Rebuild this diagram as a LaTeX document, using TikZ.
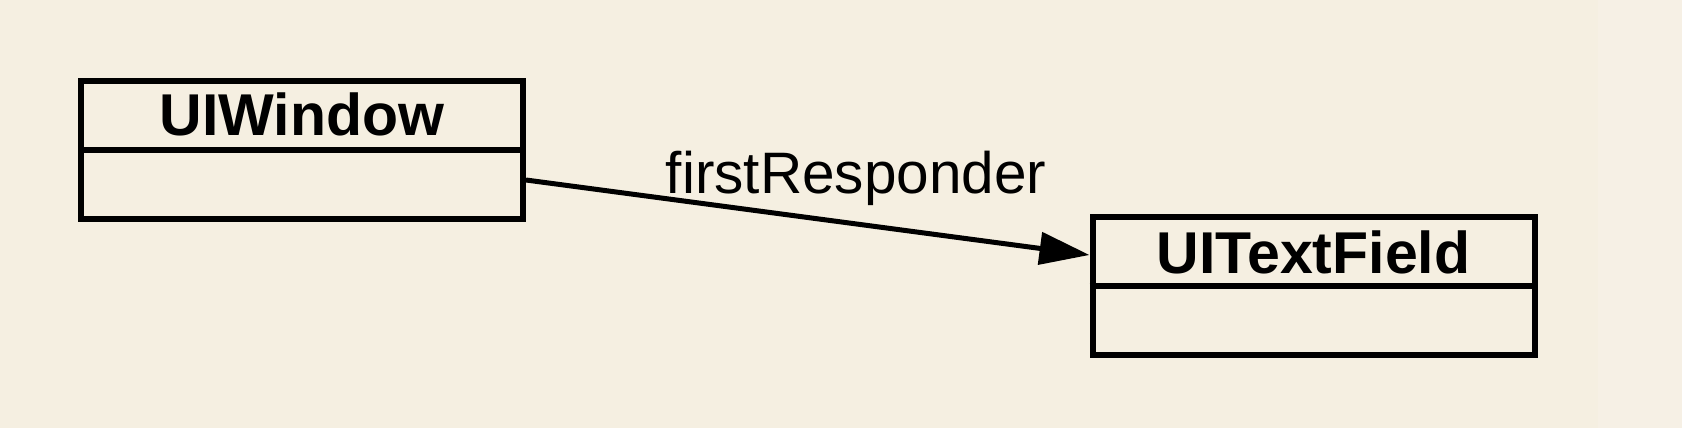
\documentclass[tikz,border=0pt]{standalone}
\usepackage{fontspec}
\setmainfont{Liberation Sans}
\usetikzlibrary{arrows.meta}
\definecolor{bgmain}{RGB}{245,239,225}
\definecolor{bgstrip}{RGB}{246,240,229}
\tikzset{
  umlbox/.style={draw=black, line width=6pt, fill=none, rectangle, inner sep=0pt,
    minimum width=442pt, minimum height=138pt},
  divider/.style={line width=5.5pt},
  title/.style={font=\fontsize{59}{60}\selectfont\bfseries, anchor=base, inner sep=0pt},
  lbl/.style={font=\fontsize{58.5}{60}\selectfont, anchor=base, inner sep=0pt},
  arr/.style={line width=5pt, -{Triangle[length=50pt,width=32pt]}}
}
\begin{document}
\begin{tikzpicture}[x=1pt,y=-1pt]
\fill[bgmain] (0,0) rectangle (1682,428);
\fill[bgstrip] (1598,0) rectangle (1682,428);
\useasboundingbox (0,0) rectangle (1682,428);
\node[umlbox] (win) at (302,150) {};
\draw[divider] (win.west) -- (win.east);
\node[title] (wint) at (302,135) {UIWindow};
\node[umlbox] (tf) at (1313.5,286) {};
\draw[divider] (tf.west) -- (tf.east);
\node[title] (tft) at (1313.5,273) {UITextField};
\draw[arr] ([yshift=-30pt]win.east) -- ([yshift=31pt]tf.west);
\node[lbl] (fr) at (856,193) {firstResponder};
\end{tikzpicture}
\end{document}
